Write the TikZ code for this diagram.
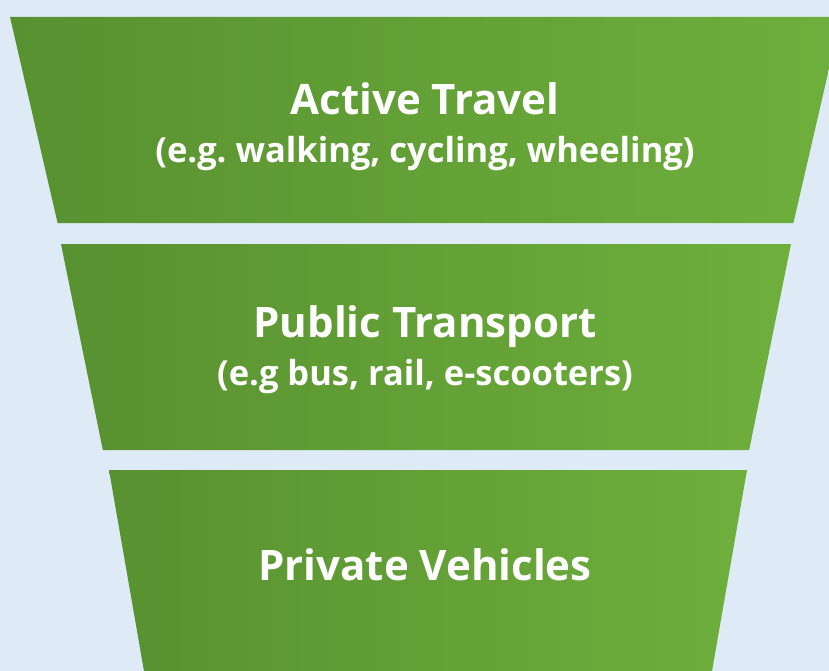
\documentclass[tikz,border=0pt]{standalone}
\usepackage{fontspec}
\setmainfont{Open Sans}
\frenchspacing
\definecolor{bgblue}{RGB}{222,235,246}
\definecolor{darkgreen}{RGB}{88,145,48}
\definecolor{lightgreen}{RGB}{110,175,60}
\tikzstyle{level}=[left color=darkgreen,right color=lightgreen,draw=none]
\tikzstyle{title}=[text=white,font=\bfseries\fontsize{42}{50}\selectfont,inner sep=0pt,anchor=base]
\tikzstyle{subtitle}=[text=white,font=\bfseries\fontsize{34.5}{41}\selectfont,inner sep=0pt,anchor=base]
\newcommand{\drawlevel}[5]{
% top y, bottom y, top left x, top right x, slope
\pgfmathsetmacro{\dy}{#2-#1}
\path[level] (#3,#1) -- (#4,#1) -- (#4-#5*\dy,#2) -- (#3+#5*\dy,#2) -- cycle;
}
\begin{document}
\begin{tikzpicture}[x=1pt,y=-1pt]
  \useasboundingbox (0,0) rectangle (829,671);
  \fill[bgblue] (0,0) rectangle (829,671);
  \begin{scope}
  \clip (0,0) rectangle (829,671);
  \drawlevel{17}{223}{10}{841}{0.231}
  \drawlevel{244}{450}{61}{791}{0.203}
  \drawlevel{470}{671}{109}{747}{0.174}
  \end{scope}
  \node[title] (active) at (425,115) {Active Travel};
  \node[subtitle] (activeeg) at (425,163) {(e.g. walking, cycling, wheeling)};
  \node[title] (public) at (425,337) {Public Transport};
  \node[subtitle] (publiceg) at (425,385) {(e.g bus, rail, e-scooters)};
  \node[title] (private) at (425,580) {Private Vehicles};
\end{tikzpicture}
\end{document}
